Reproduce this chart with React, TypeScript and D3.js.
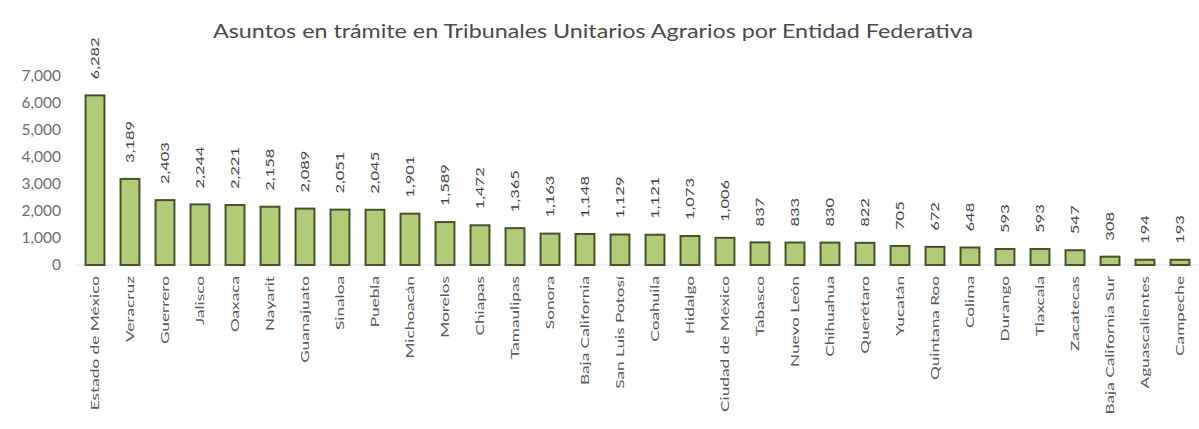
import React from "react";
import * as d3 from "d3";

const categories = [
  "Estado de México", "Veracruz", "Guerrero", "Jalisco", "Oaxaca", "Nayarit",
  "Guanajuato", "Sinaloa", "Puebla", "Michoacán", "Morelos", "Chiapas",
  "Tamaulipas", "Sonora", "Baja California", "San Luis Potosí", "Coahuila",
  "Hidalgo", "Ciudad de México", "Tabasco", "Nuevo León", "Chihuahua",
  "Querétaro", "Yucatán", "Quintana Roo", "Colima", "Durango", "Tlaxcala",
  "Zacatecas", "Baja California Sur", "Aguascalientes", "Campeche",
];

const values = [
  6282, 3189, 2403, 2244, 2221, 2158, 2089, 2051, 2045, 1901, 1589, 1472,
  1365, 1163, 1148, 1129, 1121, 1073, 1006, 837, 833, 830, 822, 705, 672,
  648, 593, 593, 547, 308, 194, 193,
];

const yTicks = [0, 1000, 2000, 3000, 4000, 5000, 6000, 7000];

const title = "Asuntos en trámite en Tribunales Unitarios Agrarios por Entidad Federativa";

const W = 1199;
const H = 429;
const FONT = "Lato, 'Open Sans', sans-serif";

export default function App() {
  const x = d3
    .scaleBand<string>()
    .domain(categories)
    .range([77.5, 77.5 + categories.length * 35])
    .paddingInner(0.46)
    .paddingOuter(0.23);
  const y = d3.scaleLinear().domain([0, 7000]).range([265, 76]);
  const fmt = d3.format(",");
  const bw = x.bandwidth();

  return (
    <svg
      width={W}
      height={H}
      style={{ position: "absolute", left: 0, top: 0, background: "#fff" }}
      fontFamily={FONT}
    >
      <rect width={W} height={H} fill="#fff" />
      <text
        x={213}
        y={38}
        textAnchor="start"
        fontSize={19.5}
        fill="#4a4a4a"
        textLength={760}
        lengthAdjust="spacingAndGlyphs"
      >
        {title}
      </text>
      {yTicks.map((t) => (
        <text
          key={t}
          x={61}
          y={y(t)}
          dy="0.35em"
          textAnchor="end"
          fontSize={15.5}
          fill="#6e6e6e"
        >
          {fmt(t)}
        </text>
      ))}
      <line x1={75} x2={1199} y1={y(0)} y2={y(0)} stroke="#dfe3ea" strokeWidth={1} />
      {categories.map((c, i) => {
        const v = values[i];
        const bx = x(c)!;
        const cx = bx + bw / 2;
        const top = y(v);
        return (
          <g key={c}>
            <rect
              x={bx}
              y={top}
              width={bw}
              height={Math.max(y(0) - top, 1)}
              fill="#b2cb77"
              stroke="#45532a"
              strokeWidth={2}
            />
            <text
              transform={`translate(${cx},${top - 16}) rotate(-90) scale(1.5,1)`}
              dy="0.35em"
              textAnchor="start"
              fontSize={11}
              fill="#444"
            >
              {fmt(v)}
            </text>
            <text
              transform={`translate(${cx},${y(0) + 11}) rotate(-90) scale(1.5,1)`}
              dy="0.35em"
              textAnchor="end"
              fontSize={11.5}
              fill="#5a5a5a"
            >
              {c}
            </text>
          </g>
        );
      })}
    </svg>
  );
}
